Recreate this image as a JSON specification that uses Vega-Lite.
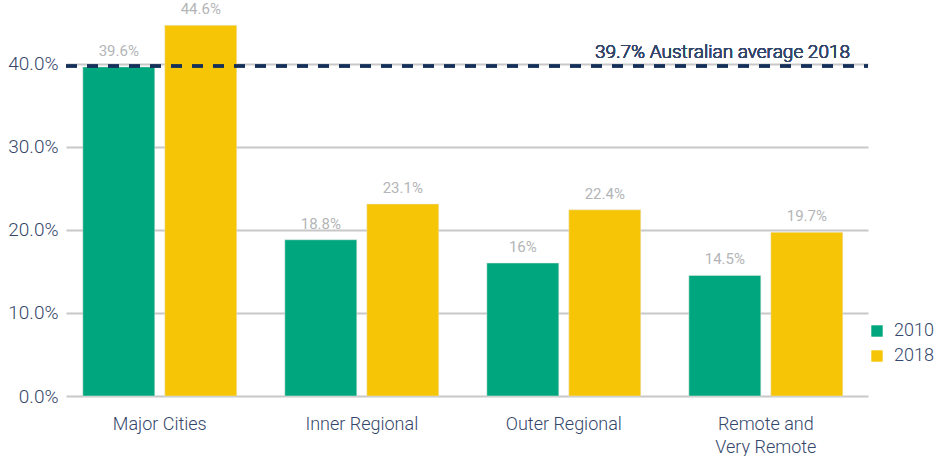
{
  "$schema": "https://vega.github.io/schema/vega-lite/v6.json",
  "autosize": "none",
  "width": 802,
  "height": 374,
  "padding": {"left": 66, "top": 22, "right": 67, "bottom": 60},
  "background": "white",
  "config": {
    "font": "Roboto",
    "view": {"stroke": null}
  },
  "data": {
    "values": [
      {"region": "Major Cities", "year": "2010", "value": 39.6, "label": "39.6%"},
      {"region": "Major Cities", "year": "2018", "value": 44.6, "label": "44.6%"},
      {"region": "Inner Regional", "year": "2010", "value": 18.8, "label": "18.8%"},
      {"region": "Inner Regional", "year": "2018", "value": 23.1, "label": "23.1%"},
      {"region": "Outer Regional", "year": "2010", "value": 16, "label": "16%"},
      {"region": "Outer Regional", "year": "2018", "value": 22.4, "label": "22.4%"},
      {"region": "Remote and Very Remote", "year": "2010", "value": 14.5, "label": "14.5%"},
      {"region": "Remote and Very Remote", "year": "2018", "value": 19.7, "label": "19.7%"}
    ]
  },
  "encoding": {
    "x": {
      "field": "region",
      "type": "nominal",
      "sort": null,
      "scale": {"paddingInner": 0.238, "paddingOuter": 0.104, "align": 0.4},
      "axis": {
        "title": null,
        "labelAngle": 0,
        "labelFontSize": 18,
        "labelFontWeight": 300,
        "labelColor": "#34466a",
        "labelPadding": 19,
        "labelLineHeight": 23,
        "ticks": false,
        "domain": false,
        "labelExpr": "datum.value == 'Remote and Very Remote' ? ['Remote and', 'Very Remote'] : datum.value"
      }
    }
  },
  "layer": [
    {
      "mark": {"type": "bar", "stroke": "#e8e8e0", "strokeWidth": 1, "strokeOpacity": 0.5},
      "encoding": {
        "xOffset": {"field": "year", "type": "nominal", "scale": {"paddingInner": 0.122}},
        "y": {
          "field": "value",
          "type": "quantitative",
          "scale": {"domain": [0, 45], "nice": false},
          "axis": {
            "title": null,
            "values": [0, 10, 20, 30, 40],
            "labelExpr": "format(datum.value, '.1f') + '%'",
            "labelFontSize": 19,
            "labelFontWeight": 300,
            "labelColor": "#34466a",
            "labelPadding": 8,
            "ticks": false,
            "domain": false,
            "gridColor": "#c8c8c8",
            "gridWidth": 2
          }
        },
        "color": {
          "field": "year",
          "type": "nominal",
          "scale": {"domain": ["2010", "2018"], "range": ["#00a77e", "#f6c506"]},
          "legend": {
            "title": null,
            "orient": "none",
            "legendX": 802,
            "legendY": 300,
            "padding": 0,
            "symbolType": "square",
            "symbolSize": 130,
            "symbolStrokeWidth": 0,
            "labelFontSize": 18,
            "labelFontWeight": 300,
            "labelColor": "#34466a",
            "rowPadding": 7,
            "labelOffset": 8
          }
        }
      }
    },
    {
      "mark": {"type": "text", "baseline": "bottom", "dy": -8, "fontSize": 15, "fontWeight": "normal", "color": "#b3b5b7"},
      "encoding": {
        "xOffset": {"field": "year", "type": "nominal", "scale": {"paddingInner": 0.122}},
        "y": {"field": "value", "type": "quantitative"},
        "text": {"field": "label"}
      }
    },
    {
      "mark": {"type": "rule", "color": "#14305a", "strokeWidth": 2.5, "strokeDash": [11, 10]},
      "encoding": {
        "y": {"datum": 39.7},
        "x": {"value": 0},
        "x2": {"value": "width"}
      }
    },
    {
      "mark": {"type": "text", "align": "right", "baseline": "bottom", "dy": -4, "dx": -18, "fontSize": 19, "fontWeight": 300, "color": "#34466a", "text": "39.7% Australian average 2018"},
      "encoding": {
        "y": {"datum": 39.7},
        "x": {"value": "width"}
      }
    }
  ]
}
